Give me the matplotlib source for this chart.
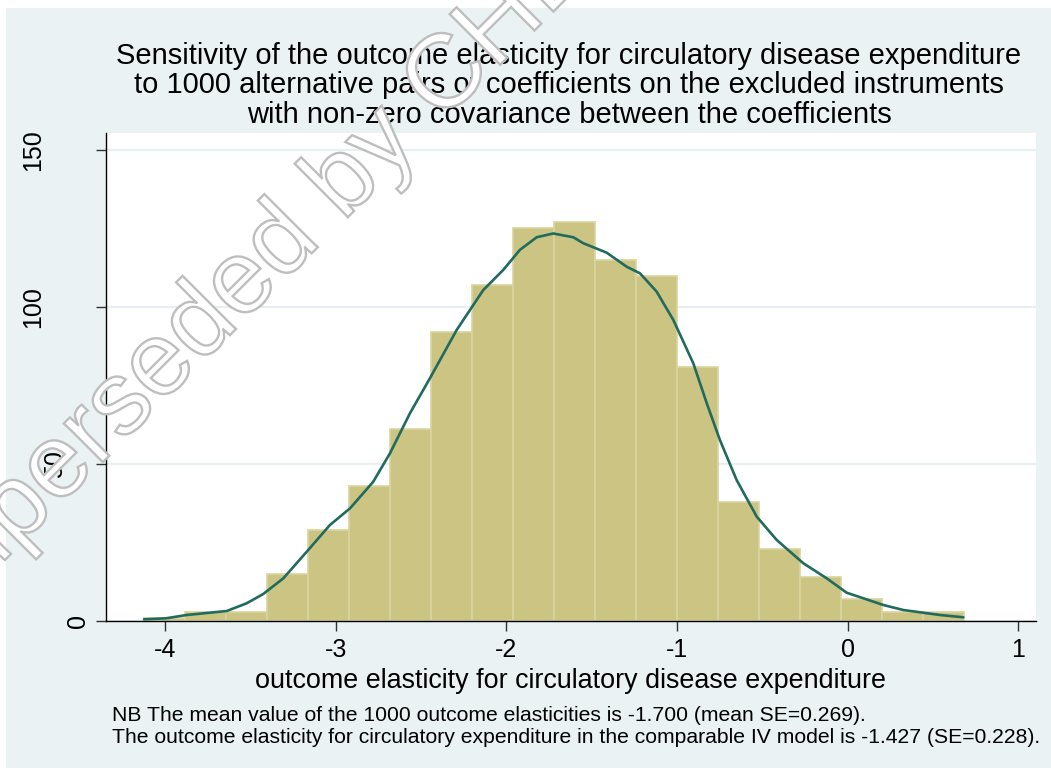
import numpy as np
import matplotlib
matplotlib.use("Agg")
import matplotlib.pyplot as plt
from matplotlib.patches import Rectangle, PathPatch
from matplotlib.textpath import TextPath
from matplotlib.font_manager import FontProperties
from matplotlib.transforms import Affine2D, ScaledTranslation

plt.rcParams['font.family'] = ['Liberation Sans', 'DejaVu Sans']

# ---------------- data ----------------
bin_lo = -4.125
bin_hi = 0.682
counts = [1, 3, 3, 15, 29, 43, 61, 92, 107, 125,
          127, 115, 110, 81, 38, 23, 14, 7, 3, 3]

kde_x = [-4.125, -3.996, -3.875, -3.640, -3.523, -3.426, -3.308, -3.171,
         -3.035, -2.917, -2.781, -2.683, -2.566, -2.449, -2.292, -2.136,
         -2.019, -1.921, -1.823, -1.726, -1.608, -1.550, -1.413, -1.295,
         -1.217, -1.120, -1.022, -0.905, -0.826, -0.749, -0.651, -0.533,
         -0.416, -0.260, -0.123, -0.006, 0.209, 0.326, 0.541, 0.678]
kde_y = [0.54, 0.86, 1.91, 3.18, 5.64, 8.60, 13.60, 22.07,
         30.57, 35.89, 44.36, 53.41, 66.15, 77.29, 92.68, 105.4,
         111.8, 118.2, 122.2, 123.4, 122.2, 120.3, 117.3, 112.8,
         110.7, 104.9, 95.86, 82.07, 69.33, 57.64, 44.90, 33.22,
         25.80, 18.38, 13.60, 9.01, 5.10, 3.50, 1.91, 1.18]

xticks = [-4, -3, -2, -1, 0, 1]
yticks = [0, 50, 100, 150]

title_lines = ["Sensitivity of the outcome elasticity for circulatory disease expenditure",
               "to 1000 alternative pairs of coefficients on the excluded instruments",
               "with non-zero covariance between the coefficients"]
xlabel = "outcome elasticity for circulatory disease expenditure"
note_lines = ["NB The mean value of the 1000 outcome elasticities is -1.700 (mean SE=0.269).",
              "The outcome elasticity for circulatory expenditure in the comparable IV model is -1.427 (SE=0.228)."]
watermark = "Superseded by CHE"

# ---------------- figure ----------------
W, H = 1051, 771
fig = plt.figure(figsize=(W / 100, H / 100), dpi=100, facecolor='white')

def fx(px):
    return px / W

def fy(py):
    return 1 - py / H

bg = Rectangle((fx(6), fy(768)), fx(1051) - fx(6), fy(8) - fy(768),
               transform=fig.transFigure, facecolor='#EAF2F3', edgecolor='none', zorder=-10)
fig.add_artist(bg)

ax = fig.add_axes([fx(106.3), fy(621), fx(1036) - fx(106.3), fy(133) - fy(621)])
ax.set_facecolor('white')

edges = np.linspace(bin_lo, bin_hi, len(counts) + 1)
ax.bar(edges[:-1], counts, width=np.diff(edges), align='edge',
       color='#CBC483', edgecolor='#DAD49F', linewidth=1.2, zorder=2)
ax.plot(kde_x, kde_y, color='#216B5E', linewidth=1.9, zorder=3,
        solid_joinstyle='round', solid_capstyle='round')

ax.set_xlim(-4.346, 1.104)
ax.set_ylim(0, 155.4)
ax.set_xticks(xticks)
ax.set_xticklabels([str(t) for t in xticks])
ax.set_yticks(yticks)
ax.set_yticklabels([str(t) for t in yticks], rotation=90, va='center', ha='right')

for s in ['top', 'right']:
    ax.spines[s].set_visible(False)
for s in ['left', 'bottom']:
    ax.spines[s].set_linewidth(1.0)
    ax.spines[s].set_color('black')

ax.tick_params(axis='both', direction='out', length=7, width=1.0, color='#333333',
               labelsize=18, pad=5)
ax.set_axisbelow(True)
ax.yaxis.grid(True, color='#E6EFF1', linewidth=1.6)
ax.xaxis.grid(False)

# Stata-like horizontal placement of rotated y labels
offsets_px = {0: 0, 50: -23, 100: -45, 150: -45}
for tick, val in zip(ax.yaxis.get_major_ticks(), yticks):
    lab = tick.label1
    lab.set_transform(lab.get_transform() + ScaledTranslation(offsets_px[val] / 100, 0, fig.dpi_scale_trans))

# title
for line, base in zip(title_lines, [64, 93.3, 122.6]):
    fig.text(fx(569), fy(base), line, ha='center', va='baseline', fontsize=21, color='black')

fig.text(fx(570.5), fy(688), xlabel, ha='center', va='baseline', fontsize=19.4, color='black')

for line, base in zip(note_lines, [721, 743]):
    fig.text(fx(112), fy(base), line, ha='left', va='baseline', fontsize=15.2, color='black')

# watermark (outlined text)
tp = TextPath((0, 0), watermark, size=104, prop=FontProperties(family='Liberation Sans'))
tr = Affine2D().rotate_deg(45).translate(-74, H - 639)
wm = PathPatch(tp, transform=tr, facecolor='white', edgecolor='#BEBEBE', linewidth=1.7, zorder=50)
fig.add_artist(wm)

fig.savefig('out.png', dpi=100, facecolor='white')
